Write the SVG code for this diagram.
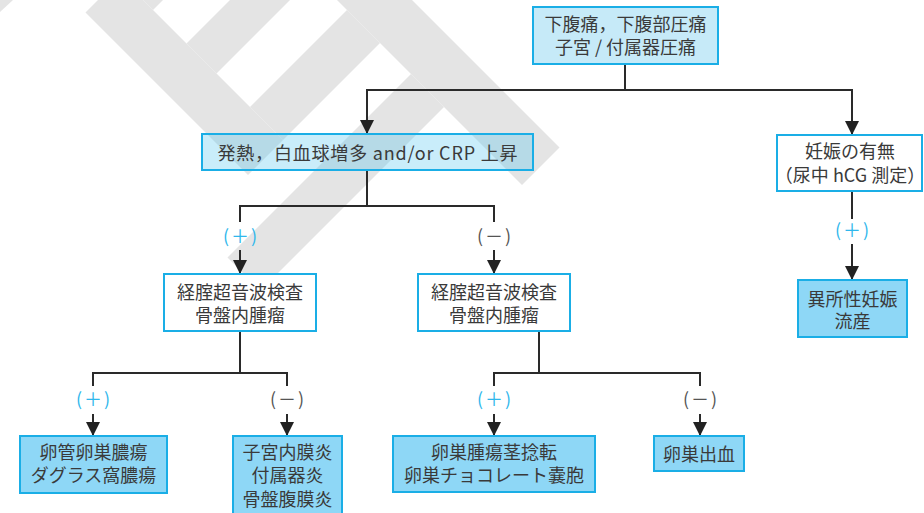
<svg xmlns="http://www.w3.org/2000/svg" width="924" height="513" viewBox="0 0 924 513">
<defs>
<marker id="arr" markerUnits="userSpaceOnUse" markerWidth="16" markerHeight="16" refX="14" refY="8" orient="auto" viewBox="0 0 16 16">
<path d="M0,1 L14,8 L0,15 Z" fill="#222"/>
</marker>
<style>
.wm{fill:#e4e4e4;stroke:none}
.ln{fill:none;stroke:#2a2a2a;stroke-width:2}
.bx{stroke:#1aaee6;stroke-width:2}
.lt{fill:#c6eaf8}
.tr{fill:#4cc2f0;fill-opacity:0.3}
.dk{fill:#8ed7f6}
.wh{fill:#ffffff}
text{font-family:"Noto Sans CJK JP","Noto Sans",sans-serif;font-size:18px;fill:#3a3a3a;text-anchor:middle}
.pl{fill:#2fb7ec;letter-spacing:2px}
.mi{fill:#555555;letter-spacing:2px}
</style>
</defs>
<g id="watermark">
<polygon class="wm" points="0,0 13,0 0,12"/>
<polygon class="wm" points="85.5,12.5 120.5,-22.5 283,140 248,175"/>
<polygon class="wm" points="120.5,-22.5 153,10 250,-87 217.5,-119.5"/>
<polygon class="wm" points="186.5,43.5 216.5,73.5 313.5,-23.5 283.5,-53.5"/>
<polygon class="wm" points="250,107 283,140 380,43 347,10"/>
<polygon class="wm" points="217.5,-119.5 255,-157 559.5,147.5 522,185"/>
<polygon class="wm" points="227.5,257.5 260.5,290.5 444,107 411,74"/>
</g>
<g id="connectors">
<line class="ln" x1="625" y1="64" x2="625" y2="90"/>
<line class="ln" x1="366" y1="90" x2="853" y2="90"/>
<line class="ln" x1="367" y1="90" x2="367" y2="134" marker-end="url(#arr)"/>
<line class="ln" x1="852" y1="90" x2="852" y2="135" marker-end="url(#arr)"/>
<line class="ln" x1="367" y1="170" x2="367" y2="206"/>
<line class="ln" x1="239" y1="206" x2="495" y2="206"/>
<line class="ln" x1="240" y1="206" x2="240" y2="222"/>
<line class="ln" x1="240" y1="250" x2="240" y2="274" marker-end="url(#arr)"/>
<line class="ln" x1="494" y1="206" x2="494" y2="222"/>
<line class="ln" x1="494" y1="250" x2="494" y2="274" marker-end="url(#arr)"/>
<line class="ln" x1="240" y1="331" x2="240" y2="373"/>
<line class="ln" x1="92" y1="373" x2="288" y2="373"/>
<line class="ln" x1="93" y1="373" x2="93" y2="386"/>
<line class="ln" x1="93" y1="414" x2="93" y2="436" marker-end="url(#arr)"/>
<line class="ln" x1="287" y1="373" x2="287" y2="386"/>
<line class="ln" x1="287" y1="414" x2="287" y2="436" marker-end="url(#arr)"/>
<line class="ln" x1="539" y1="331" x2="539" y2="373"/>
<line class="ln" x1="493" y1="373" x2="701" y2="373"/>
<line class="ln" x1="494" y1="373" x2="494" y2="386"/>
<line class="ln" x1="494" y1="414" x2="494" y2="436" marker-end="url(#arr)"/>
<line class="ln" x1="700" y1="373" x2="700" y2="386"/>
<line class="ln" x1="700" y1="414" x2="700" y2="436" marker-end="url(#arr)"/>
<line class="ln" x1="852" y1="191" x2="852" y2="219"/>
<line class="ln" x1="852" y1="244" x2="852" y2="280" marker-end="url(#arr)"/>
<text class="pl" x="241" y="243">(＋)</text>
<text class="mi" x="495" y="243">(－)</text>
<text class="pl" x="94" y="406">(＋)</text>
<text class="mi" x="288" y="406">(－)</text>
<text class="pl" x="495" y="406">(＋)</text>
<text class="mi" x="701" y="406">(－)</text>
<text class="pl" x="853" y="237">(＋)</text>
</g>
<g id="n-top">
<rect class="bx lt" x="533" y="7" width="185" height="57"/>
<text x="625.5" y="31">下腹痛，下腹部圧痛</text>
<text x="625.5" y="54">子宮 / 付属器圧痛</text>
</g>
<g id="n-fever">
<rect class="bx tr" x="202" y="134" width="331" height="36"/>
<text x="367.5" y="160" textLength="300" lengthAdjust="spacing">発熱，白血球増多 and/or CRP 上昇</text>
</g>
<g id="n-preg">
<rect class="bx wh" x="777" y="135" width="145" height="56"/>
<text x="850" y="158">妊娠の有無</text>
<text x="850" y="182">（尿中 hCG 測定）</text>
</g>
<g id="n-ectopic">
<rect class="bx dk" x="798" y="280" width="109" height="57"/>
<text x="852.5" y="306">異所性妊娠</text>
<text x="852.5" y="328">流産</text>
</g>
<g id="n-us1">
<rect class="bx wh" x="164" y="274" width="152" height="57"/>
<text x="240" y="299">経腟超音波検査</text>
<text x="240" y="322">骨盤内腫瘤</text>
</g>
<g id="n-us2">
<rect class="bx wh" x="418" y="274" width="152" height="57"/>
<text x="494" y="299">経腟超音波検査</text>
<text x="494" y="322">骨盤内腫瘤</text>
</g>
<g id="n-abscess">
<rect class="bx dk" x="20" y="436" width="147" height="57"/>
<text x="93.5" y="459">卵管卵巣膿瘍</text>
<text x="93.5" y="482">ダグラス窩膿瘍</text>
</g>
<g id="n-pid">
<rect class="bx dk" x="233" y="436" width="109" height="84"/>
<text x="287.5" y="459">子宮内膜炎</text>
<text x="287.5" y="482">付属器炎</text>
<text x="287.5" y="506">骨盤腹膜炎</text>
</g>
<g id="n-torsion">
<rect class="bx dk" x="393" y="436" width="202" height="56"/>
<text x="494" y="459">卵巣腫瘍茎捻転</text>
<text x="494" y="482">卵巣チョコレート嚢胞</text>
</g>
<g id="n-bleed">
<rect class="bx dk" x="654" y="436" width="90" height="35"/>
<text x="699" y="461">卵巣出血</text>
</g>
</svg>
